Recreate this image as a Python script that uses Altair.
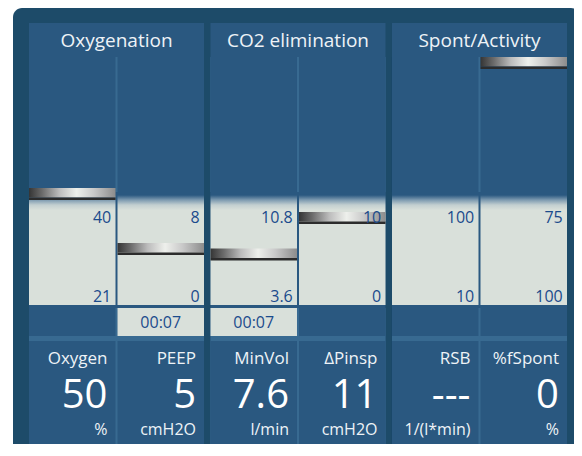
import altair as alt
import pandas as pd

# ---------------- data ----------------
groups = ["Oxygenation", "CO2 elimination", "Spont/Activity"]
col_group = ["Oxygenation", "Oxygenation", "CO2 elimination", "CO2 elimination",
             "Spont/Activity", "Spont/Activity"]
col_sub = ["a", "b", "a", "b", "a", "b"]
param_names = ["Oxygen", "PEEP", "MinVol", "ΔPinsp", "RSB", "%fSpont"]
param_values = ["50", "5", "7.6", "11", "---", "0"]
param_units = ["%", "cmH2O", "l/min", "cmH2O", "1/(l*min)", "%"]
gauge_top_labels = ["40", "8", "10.8", "10", "100", "75"]
gauge_bottom_labels = ["21", "0", "3.6", "0", "10", "100"]
timer_labels = ["", "00:07", "00:07", "", "", ""]
# marker level on the gauge (0 = lower limit line, 1 = upper limit line)
marker_levels = [1.17, 0.62, 0.565, 0.93, None, 2.48]

df = pd.DataFrame({
    "group": col_group, "sub": col_sub, "name": param_names, "value": param_values,
    "unit": param_units, "top": gauge_top_labels, "bottom": gauge_bottom_labels,
    "timer": timer_labels, "level": marker_levels,
})
gdf = pd.DataFrame({"group": groups})

# ---------------- style ----------------
FRAME = "#1d4b69"
PANEL = "#2a5880"
LIGHTER = "#386a91"
GAUGE = "#d9e0da"
BLUE = "#1b4b8c"
WHITE = "#eef3f7"
FONT = "Open Sans"
BL = "alphabetic"
W, H = 566, 436

xs = alt.Scale(domain=groups, range=[21, 559], paddingInner=0.0358, paddingOuter=0)
X = alt.X("group:N", scale=xs, axis=None)
XO = alt.XOffset("sub:N", scale=alt.Scale(domain=["a", "b"], paddingInner=0.0226, paddingOuter=0))
ys = alt.Scale(domain=[0, 1], range=[297, 197], zero=False, nice=False)

one = alt.Chart(pd.DataFrame({"k": [0]}))
frame = one.mark_rect(cornerRadius=9, color=FRAME).encode(
    x=alt.value(5), x2=alt.value(572), y=alt.value(0), y2=alt.value(446))

g = alt.Chart(gdf)
group_bg = g.mark_bar(color=PANEL, cornerRadius=0).encode(x=X, y=alt.value(15), y2=alt.value(439))
strip_top = g.mark_bar(color=LIGHTER, cornerRadius=0).encode(x=X, y=alt.value(49), y2=alt.value(184))
strip_bot = g.mark_bar(color=LIGHTER, cornerRadius=0).encode(x=X, y=alt.value(300), y2=alt.value(439))

c = alt.Chart(df)
col_top = c.mark_bar(color=PANEL, cornerRadius=0).encode(x=X, xOffset=XO, y=alt.value(49), y2=alt.value(184))
col_timer = c.mark_bar(color=PANEL, cornerRadius=0).encode(x=X, xOffset=XO, y=alt.value(300), y2=alt.value(328))
col_bottom = c.mark_bar(color=PANEL, cornerRadius=0).encode(x=X, xOffset=XO, y=alt.value(333), y2=alt.value(439))

gauge_grad = alt.Gradient(
    gradient="linear", x1=0, y1=0, x2=0, y2=1,
    stops=[alt.GradientStop(color=PANEL, offset=0),
           alt.GradientStop(color=PANEL, offset=0.027),
           alt.GradientStop(color="#7d9ab0", offset=0.07),
           alt.GradientStop(color="#c3cfd0", offset=0.115),
           alt.GradientStop(color=GAUGE, offset=0.16),
           alt.GradientStop(color=GAUGE, offset=1)])
gauge = c.mark_bar(fill=gauge_grad, cornerRadius=0).encode(
    x=X, xOffset=XO, y=alt.value(184), y2=alt.value(297))

timer_box = c.transform_filter("datum.timer != ''").mark_bar(color=GAUGE, cornerRadius=0).encode(
    x=X, xOffset=XO, y=alt.value(300), y2=alt.value(328))

metal = alt.Gradient(
    gradient="linear", x1=0, y1=0, x2=1, y2=0,
    stops=[alt.GradientStop(color="#353535", offset=0),
           alt.GradientStop(color="#6a6a6a", offset=0.15),
           alt.GradientStop(color="#bcbcbc", offset=0.35),
           alt.GradientStop(color="#eef0ec", offset=0.55),
           alt.GradientStop(color="#c9c9c9", offset=0.75),
           alt.GradientStop(color="#8c8c8c", offset=1)])
mk = c.transform_filter("isValid(datum.level)").transform_calculate(
    lt="datum.level", lm="datum.level - 0.095", lb="datum.level - 0.12")
marker = mk.mark_bar(fill=metal, cornerRadius=0).encode(
    x=X, xOffset=XO, y=alt.Y("lt:Q", scale=ys, axis=None), y2="lm:Q")
marker_line = mk.mark_bar(color="#2c2c2c", cornerRadius=0).encode(
    x=X, xOffset=XO, y=alt.Y("lm:Q", scale=ys, axis=None), y2="lb:Q")

titles = g.mark_text(font=FONT, fontSize=19, color=WHITE, baseline=BL).encode(
    x=X, y=alt.value(38.5), text="group:N")

lab = c.transform_calculate(up="1", lo="0")
top_lab = lab.mark_text(font=FONT, fontSize=16, color=BLUE, align="right", baseline=BL, dx=39, dy=18).encode(
    x=X, xOffset=XO, y=alt.Y("up:Q", scale=ys, axis=None), text="top:N")
bot_lab = lab.mark_text(font=FONT, fontSize=16, color=BLUE, align="right", baseline=BL, dx=39, dy=-3).encode(
    x=X, xOffset=XO, y=alt.Y("lo:Q", scale=ys, axis=None), text="bottom:N")

timer_txt = c.transform_filter("datum.timer != ''").mark_text(
    font=FONT, fontSize=16, color=BLUE, baseline=BL).encode(
    x=X, xOffset=XO, y=alt.value(319.5), text="timer:N")

name_txt = c.mark_text(font=FONT, fontSize=17, color=WHITE, align="right", baseline=BL, dx=35.25).encode(
    x=X, xOffset=XO, y=alt.value(356), text="name:N")
value_txt = c.mark_text(font=FONT, fontSize=40, color="#ffffff", align="right", baseline=BL, dx=35.25).encode(
    x=X, xOffset=XO, y=alt.value(400), text="value:N")
unit_txt = c.mark_text(font=FONT, fontSize=16, color=WHITE, align="right", baseline=BL, dx=35.25).encode(
    x=X, xOffset=XO, y=alt.value(427), text="unit:N")

chart = alt.layer(
    frame, group_bg, strip_top, strip_bot, col_top, col_timer, col_bottom,
    gauge, timer_box, marker, marker_line, titles, top_lab, bot_lab,
    timer_txt, name_txt, value_txt, unit_txt,
).properties(
    width=W, height=H, padding=0, autosize=alt.AutoSizeParams(type="none"),
    background="#ffffff",
).configure_view(stroke=None)

chart.save("out.html", embed_options={"renderer": "svg", "actions": False})
